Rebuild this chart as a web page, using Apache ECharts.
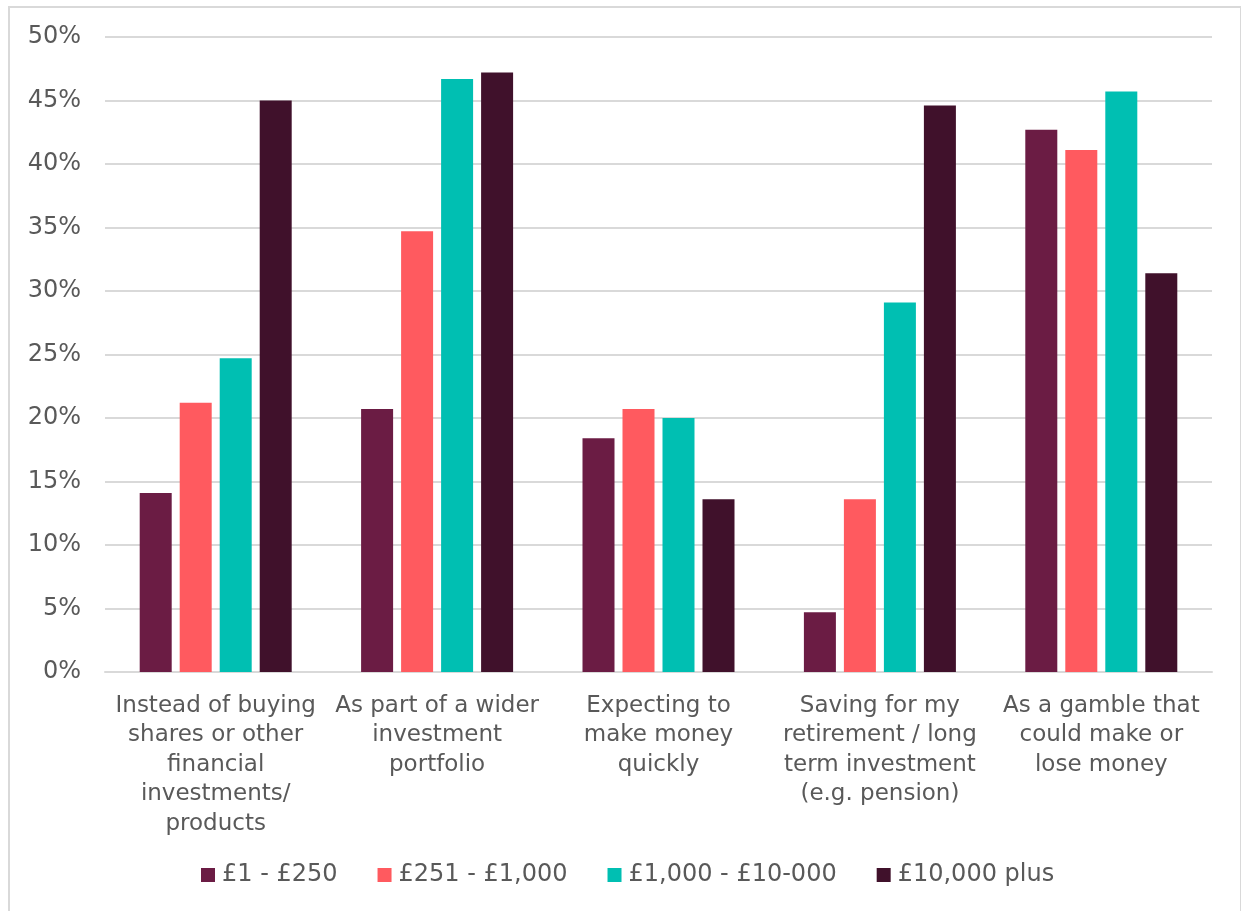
<!DOCTYPE html>
<html>
<head>
<meta charset="utf-8">
<script src="https://cdn.jsdelivr.net/npm/echarts@6/dist/echarts.min.js"></script>
<style>
  html, body { margin: 0; padding: 0; background: #fff; }
  #chart { width: 1241px; height: 911px; }
  .frame {
    position: absolute; left: 8px; top: 6px; width: 1230px; height: 930px;
    border: 2px solid #d9d9d9; pointer-events: none;
  }
</style>
</head>
<body>
<div id="chart"></div>
<div class="frame"></div>
<script>
// categories (x axis)
const categories = [
  'Instead of buying\nshares or other\nfinancial\ninvestments/\nproducts',
  'As part of a wider\ninvestment\nportfolio',
  'Expecting to\nmake money\nquickly',
  'Saving for my\nretirement / long\nterm investment\n(e.g. pension)',
  'As a gamble that\ncould make or\nlose money'
]

// series names and values (%)
const seriesNames = ['£1 - £250', '£251 - £1,000', '£1,000 - £10-000', '£10,000 plus']
const band1 = [14.1, 20.7, 18.4, 4.7, 42.7]
const band2 = [21.2, 34.7, 20.7, 13.6, 41.1]
const band3 = [24.7, 46.7, 20.0, 29.1, 45.7]
const band4 = [45.0, 47.2, 13.6, 44.6, 31.4]
const colors = ['#6b1c44', '#ff5a5f', '#00bfb2', '#40112b']

const chart = echarts.init(document.getElementById('chart'))
const font = 'DejaVu Sans'

chart.setOption({
  animation: false,
  color: colors,
  textStyle: { fontFamily: font },
  grid: { left: 105, right: 29, top: 37, bottom: 239 },
  legend: {
    top: 858,
    left: 196,
    itemWidth: 14,
    itemHeight: 14,
    itemGap: 40,
    icon: 'rect',
    textStyle: { color: '#595959', fontSize: 24, padding: [0, 0, 0, 2] },
    data: seriesNames
  },
  xAxis: {
    type: 'category',
    data: categories,
    axisLine: { lineStyle: { color: '#d9d9d9', width: 2 } },
    axisTick: { show: false },
    axisLabel: {
      color: '#595959', fontSize: 23, lineHeight: 29.5, margin: 19, interval: 0
    }
  },
  yAxis: {
    type: 'value',
    min: 0,
    max: 50,
    interval: 5,
    axisLine: { show: false },
    axisTick: { show: false },
    splitLine: { lineStyle: { color: '#d9d9d9', width: 2 } },
    axisLabel: { color: '#595959', fontSize: 24, margin: 24, formatter: '{value}%' }
  },
  series: [band1, band2, band3, band4].map((d, i) => ({
    name: seriesNames[i],
    type: 'bar',
    data: d,
    barWidth: 32,
    barGap: '25%'
  }))
})
</script>
</body>
</html>
